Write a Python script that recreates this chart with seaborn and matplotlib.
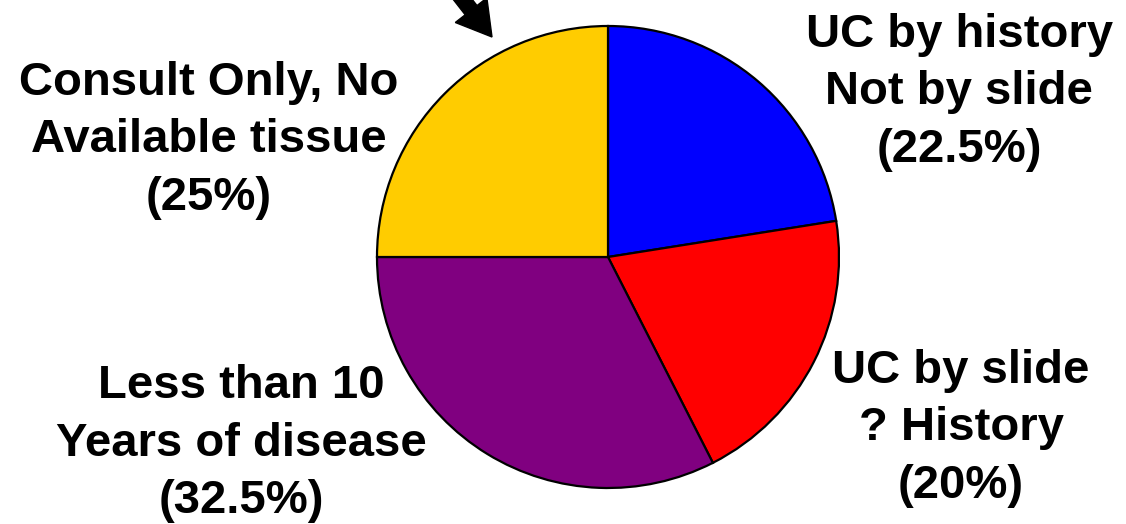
import matplotlib
matplotlib.use("Agg")
import matplotlib.pyplot as plt
import seaborn as sns

# Slice data (clockwise from 12 o'clock)
categories = [
    "UC by history\nNot by slide",
    "UC by slide\n? History",
    "Less than 10\nYears of disease",
    "Consult Only, No\nAvailable tissue",
]
shares = [22.5, 20.0, 32.5, 25.0]
pct_labels = ["(22.5%)", "(20%)", "(32.5%)", "(25%)"]
slice_colors = ["#0000FF", "#FF0000", "#800080", "#FFCC00"]

sns.set_theme(style="white")
plt.rcParams["font.family"] = ["Liberation Sans", "DejaVu Sans"]

W, H = 1126, 524
fig = plt.figure(figsize=(W / 100, H / 100), dpi=100)
ax = fig.add_axes([0, 0, 1, 1])

palette = sns.color_palette(slice_colors)
ax.pie(
    shares,
    colors=palette,
    startangle=90,
    counterclock=False,
    center=(608, H - 257),
    radius=231,
    wedgeprops=dict(edgecolor="black", linewidth=1.6),
)
ax.set_xlim(0, W)
ax.set_ylim(0, H)
ax.set_aspect("equal")
ax.axis("off")

# Label blocks: centre x and first baseline (pixels from top)
label_pos = [(959, 47), (961, 383), (241, 398), (209, 95)]
pitch = 57.5
for cat, pct, (cx, y0) in zip(categories, pct_labels, label_pos):
    lines = cat.split("\n") + [pct]
    for i, line in enumerate(lines):
        ax.text(cx, H - (y0 + i * pitch), line, ha="center", va="baseline",
                fontsize=34, fontweight="bold", color="black")

# Pointer arrow toward the top of the pie
ax.arrow(446, H + 22, 46, -59, width=15, head_width=40, head_length=34,
         length_includes_head=True, color="black", clip_on=False)

fig.savefig("out.png", dpi=100)
